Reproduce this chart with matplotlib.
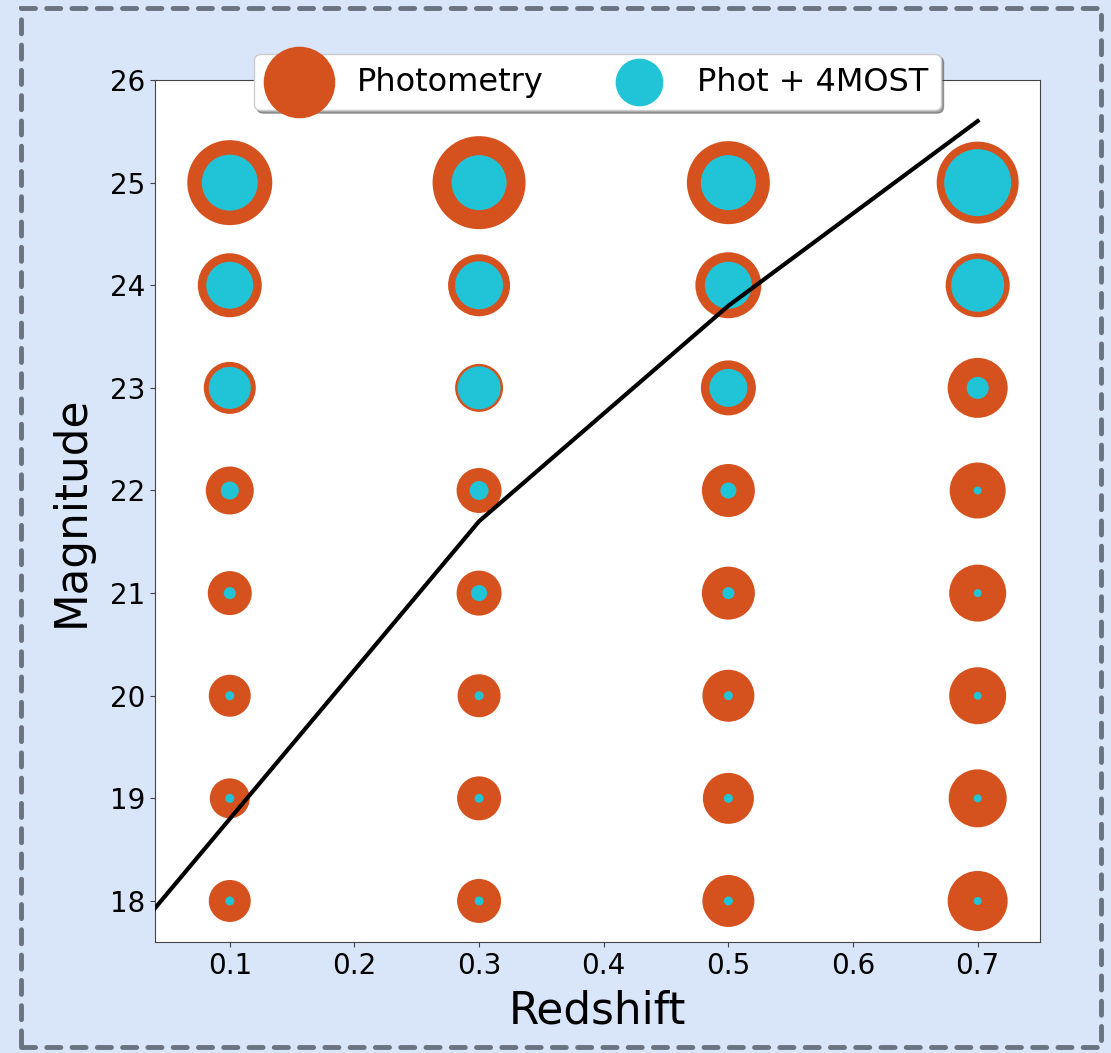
import numpy as np
import matplotlib.pyplot as plt
from matplotlib.patches import Rectangle

# Grid of redshift / magnitude bins
redshifts = [0.1, 0.3, 0.5, 0.7]
magnitudes = [18, 19, 20, 21, 22, 23, 24, 25]

# Marker areas per bin (rows = magnitude 18..25, columns = redshift)
phot_sizes = [
    [914, 1004, 1402, 1866],
    [829, 1004, 1348, 1744],
    [914, 959, 1402, 1684],
    [1004, 1050, 1456, 1684],
    [1194, 1050, 1456, 1626],
    [1402, 1194, 1568, 1866],
    [2123, 1993, 2258, 2123],
    [3745, 4484, 3571, 3486],
]
spec_sizes = [
    [42, 42, 42, 33],
    [42, 42, 42, 33],
    [42, 42, 42, 33],
    [75, 133, 75, 33],
    [168, 187, 133, 33],
    [914, 959, 749, 251],
    [1145, 1194, 1145, 1456],
    [1626, 1568, 1568, 2327],
]

# Magnitude limit curve
limit_z = [0.04, 0.3, 0.5, 0.7]
limit_mag = [17.93, 21.7, 23.8, 25.6]

orange = '#d5521f'
cyan = '#20c4d6'

zz, mm = np.meshgrid(redshifts, magnitudes)

fig = plt.figure(figsize=(11.11, 10.53), dpi=100)
fig.patch.set_facecolor('#d9e6f9')

# dashed frame around the figure
frame = Rectangle((0.019, 0.006), 0.972, 0.986, transform=fig.transFigure,
                  fill=False, edgecolor='#6b7280', linewidth=3.5,
                  linestyle=(0, (2.9, 2.3)), capstyle='round')
fig.patches.append(frame)

ax = fig.add_axes([0.1395, 0.1054, 0.7966, 0.8186])

ax.scatter(zz.ravel(), mm.ravel(), s=np.array(phot_sizes).ravel(),
           color=orange, linewidths=0, label='Photometry', zorder=2)
ax.scatter(zz.ravel(), mm.ravel(), s=np.array(spec_sizes).ravel(),
           color=cyan, linewidths=0, label='Phot + 4MOST', zorder=3)
ax.plot(limit_z, limit_mag, color='black', linewidth=3, zorder=4)

ax.set_xlim(0.04, 0.75)
ax.set_ylim(17.6, 26)
ax.set_xticks([0.1, 0.2, 0.3, 0.4, 0.5, 0.6, 0.7])
ax.set_yticks(range(18, 27))
ax.tick_params(labelsize=20, color='#444444')
for sp in ax.spines.values():
    sp.set_color('#444444')

ax.set_xlabel('Redshift', fontsize=31.5, labelpad=7)
ax.set_ylabel('Magnitude', fontsize=31.5, labelpad=12)

leg = ax.legend(loc='upper center', bbox_to_anchor=(0.5, 1.049), ncol=2,
                fontsize=23, shadow=True, framealpha=1)

plt.savefig('out.png', dpi=100, facecolor=fig.get_facecolor())
